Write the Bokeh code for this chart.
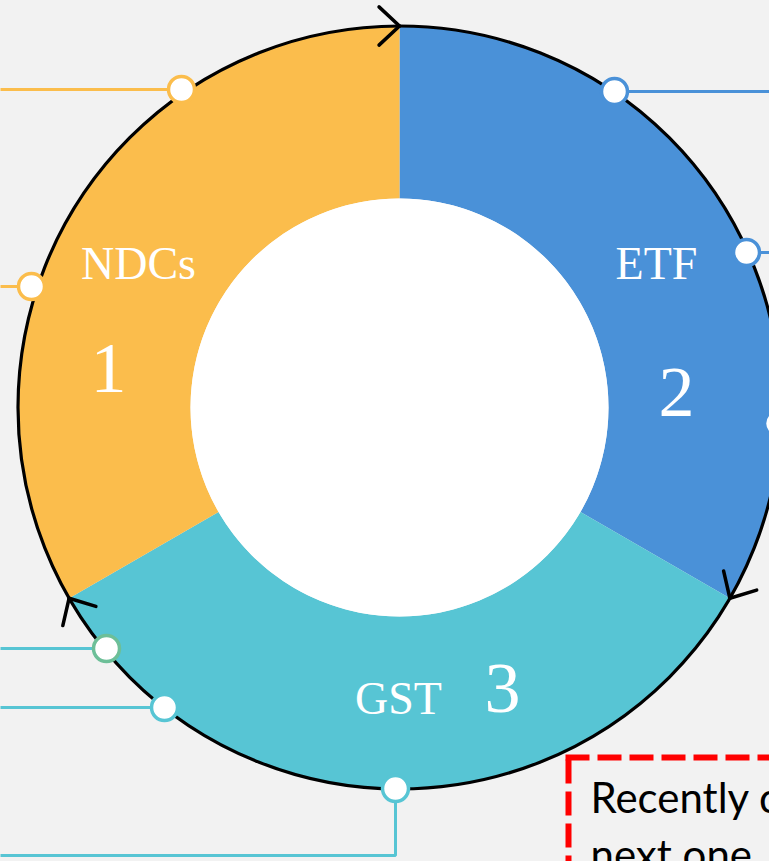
import numpy as np
from bokeh.plotting import figure
from bokeh.models import Range1d, Label
from bokeh.core.properties import value
from bokeh.embed import file_html
from bokeh.resources import INLINE

# ---------------- data ----------------
segments = ["ETF", "GST", "NDCs"]          # clockwise from 12 o'clock
step_numbers = ["2", "3", "1"]
shares = [1, 1, 1]                          # three equal steps of the cycle
note_lines = ["Recently c", "next one"]

# ---------------- styles / layout ----------------
seg_colors = ["#4A91D8", "#57C5D4", "#FBBD4C"]
GREEN = "#6DBF98"
BG = "#F2F2F2"
W, H = 769, 861
CX, CY = 399, 407            # donut centre in page pixels
R_OUT, R_IN = 381.5, 209
BASE_ADJ = 0.365             # baseline correction (fraction of font size)


def px(x, y):
    """page-pixel position -> data coords (origin at donut centre, y up)"""
    return x - CX, CY - y


p = figure(width=W, height=H, output_backend="svg", toolbar_location=None,
           x_range=Range1d(-CX, W - CX), y_range=Range1d(CY - H, CY),
           min_border=0, background_fill_color=BG, border_fill_color=BG,
           outline_line_color=None)
p.axis.visible = False
p.grid.visible = False

# ---- donut wedges from shares ----
frac = np.array(shares, dtype=float) / np.sum(shares)
cum = np.concatenate([[0.0], np.cumsum(frac)])
start_deg = 90 - 360 * cum[:-1]
end_deg = 90 - 360 * cum[1:]
p.annular_wedge(x=0, y=0, inner_radius=R_IN, outer_radius=R_OUT,
                start_angle=np.deg2rad(start_deg), end_angle=np.deg2rad(end_deg),
                direction="clock", fill_color=seg_colors, line_color=None)

# white centre
p.circle(x=[0], y=[0], radius=R_IN, fill_color="white", line_color=None)

# outer black ring
p.circle(x=[0], y=[0], radius=R_OUT, fill_color=None, line_color="black", line_width=3.2)

# ---- chevron arrows at segment boundaries (clockwise flow) ----
arm_len, half = 28, np.deg2rad(43)
x0s, y0s, x1s, y1s = [], [], [], []
for a in np.deg2rad(start_deg):
    tx, ty = R_OUT * np.cos(a), R_OUT * np.sin(a)
    bx, by = -np.sin(a), np.cos(a)      # opposite of clockwise tangent
    for s in (half, -half):
        ax = bx * np.cos(s) - by * np.sin(s)
        ay = bx * np.sin(s) + by * np.cos(s)
        x0s.append(tx); y0s.append(ty)
        x1s.append(tx + arm_len * ax); y1s.append(ty + arm_len * ay)
p.segment(x0=x0s, y0=y0s, x1=x1s, y1=y1s, line_color="black", line_width=3.5,
          line_cap="round")

# ---- connector dots and lines (page-pixel layout) ----
ORA, BLU, CYA = seg_colors[2], seg_colors[0], seg_colors[1]
connectors = [
    (181, 89, "left", ORA, ORA),
    (31, 286, "left", ORA, ORA),
    (614, 91, "right", BLU, BLU),
    (746, 252, "right", BLU, BLU),
    (777, 423, "right", BLU, BLU),
    (106, 648, "left", CYA, GREEN),
    (164, 707, "left", CYA, CYA),
    (395, 788, "down", CYA, CYA),
]
for (cx, cy, side, lc, oc) in connectors:
    if side == "left":
        xs, ys = [-20, cx], [cy, cy]
    elif side == "right":
        xs, ys = [cx, 820], [cy, cy]
    else:
        xs, ys = [cx, cx, -20], [cy, 855, 855]
    dx, dy = zip(*[px(a, b) for a, b in zip(xs, ys)])
    p.line(x=list(dx), y=list(dy), line_color=lc, line_width=3)
dots = [px(c[0], c[1]) for c in connectors]
p.circle(x=[d[0] for d in dots], y=[d[1] for d in dots], radius=13,
         fill_color="white", line_color=[c[4] for c in connectors], line_width=3.5)

# ---- segment names and step numbers (baseline positions) ----
NAME_FS, NUM_FS = 46, 72
name_pos = {"ETF": (656, 280), "GST": (398, 715), "NDCs": (138, 280)}
num_pos = {"2": (676, 418), "3": (502, 714), "1": (108, 394)}
nx, ny = zip(*[px(name_pos[s][0], name_pos[s][1] - BASE_ADJ * NAME_FS) for s in segments])
p.text(x=list(nx), y=list(ny), text=segments, text_font=value("Liberation Serif"),
       text_font_size=f"{NAME_FS}px", text_color="white", text_align="center",
       text_baseline="alphabetic")
mx, my = zip(*[px(num_pos[s][0], num_pos[s][1] - BASE_ADJ * NUM_FS) for s in step_numbers])
p.text(x=list(mx), y=list(my), text=step_numbers, text_font=value("Liberation Serif"),
       text_font_size=f"{NUM_FS}px", text_color="white", text_align="center",
       text_baseline="alphabetic")

# ---- red dashed note box ----
bx0, by0 = px(565, 757)
bx1, _ = px(820, 757)
lx, ly0 = px(568, 759)
_, ly1 = px(568, 900)
p.segment(x0=[bx0, lx], y0=[by0, ly0], x1=[bx1, lx], y1=[by0, ly1],
          line_color="#FF0000", line_width=6, line_dash="24 8", line_cap="butt")
NOTE_FS = 42
for t, base in zip(note_lines, [812, 869]):
    tx, ty = px(590, base - BASE_ADJ * NOTE_FS)
    p.add_layout(Label(x=tx, y=ty, text=t, text_font="Lato", text_font_size=f"{NOTE_FS}px",
                       text_color="black", text_baseline="alphabetic"))

html = file_html(p, INLINE)
html = html.replace("<head>", "<head><style>body{background-color:#F2F2F2;}</style>", 1)
open("out.html", "w").write(html)
